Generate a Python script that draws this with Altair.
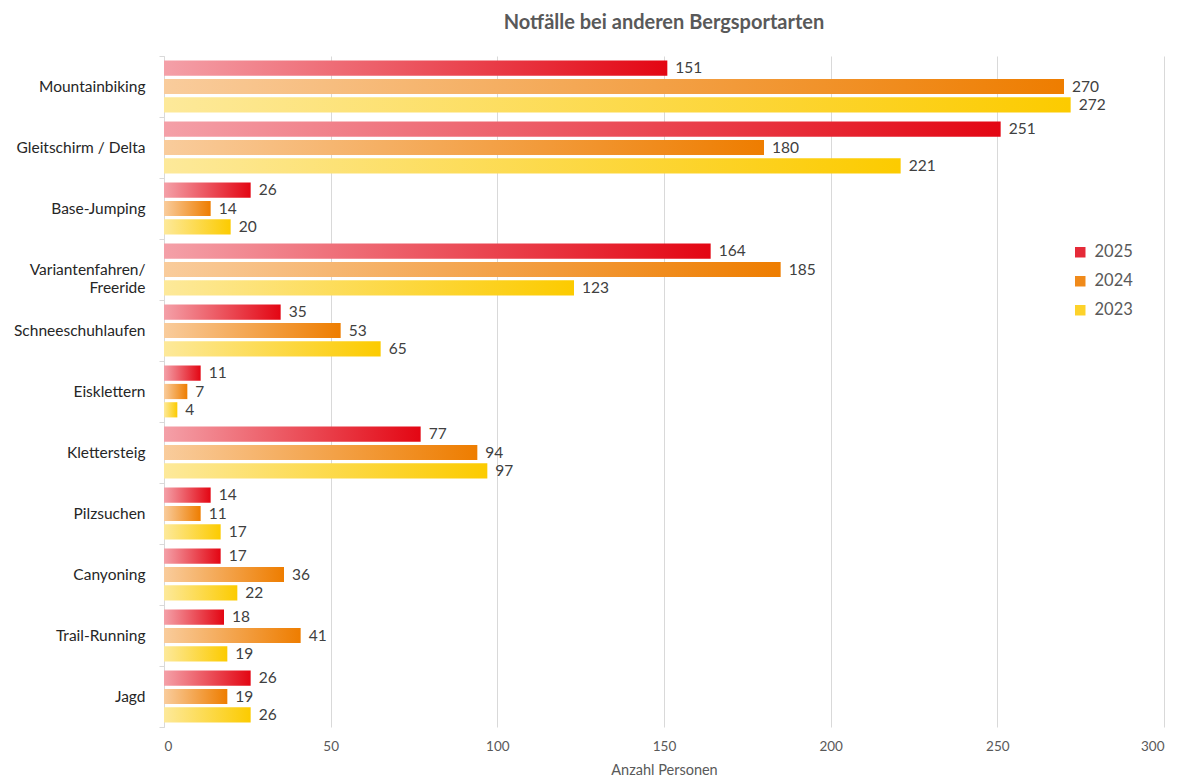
import altair as alt
import pandas as pd

categories = ["Mountainbiking", "Gleitschirm / Delta", "Base-Jumping", "Variantenfahren/Freeride",
              "Schneeschuhlaufen", "Eisklettern", "Klettersteig", "Pilzsuchen", "Canyoning",
              "Trail-Running", "Jagd"]
years = ["2025", "2024", "2023"]
v2025 = [151, 251, 26, 164, 35, 11, 77, 14, 17, 18, 26]
v2024 = [270, 180, 14, 185, 53, 7, 94, 11, 36, 41, 19]
v2023 = [272, 221, 20, 123, 65, 4, 97, 17, 22, 19, 26]

rows = []
for yr, vals in zip(years, [v2025, v2024, v2023]):
    for c, v in zip(categories, vals):
        rows.append({"Sportart": c, "Jahr": yr, "Wert": v})
df = pd.DataFrame(rows)

light = {"2025": "#F4A0A8", "2024": "#F9CC9C", "2023": "#FDE99A"}
dark = {"2025": "#E30613", "2024": "#EE7D00", "2023": "#FCCB00"}
legend_colors = ["#E52A38", "#F08A1A", "#FDD22A"]

FONT = "Lato"

y_enc = alt.Y("Sportart:N", sort=categories, title=None,
              scale=alt.Scale(paddingInner=0, paddingOuter=0),
              axis=alt.Axis(labelFontSize=15.5, labelColor="#262626", labelFont=FONT,
                            labelPadding=14, tickBand="extent", tickSize=5, tickColor="#D9D9D9",
                            domainColor="#D9D9D9", grid=False, labelLimit=300,
                            labelExpr="datum.value == 'Variantenfahren/Freeride' ? ['Variantenfahren/', 'Freeride'] : datum.label"))
yoff = alt.YOffset("Jahr:N", sort=years, scale=alt.Scale(paddingInner=0.17, paddingOuter=0.25))
x_enc = alt.X("Wert:Q", title="Anzahl Personen",
              scale=alt.Scale(domain=[0, 300], nice=False),
              axis=alt.Axis(values=[0, 50, 100, 150, 200, 250, 300], domain=False, ticks=False,
                            labelFontSize=13.5, labelColor="#595959", labelFont=FONT, labelPadding=12,
                            titleFontSize=14.5, titleColor="#595959", titleFont=FONT,
                            titleFontWeight="normal", titlePadding=11,
                            gridColor="#D9D9D9", gridWidth=1))

layers = []
for yr in years:
    grad = {"gradient": "linear", "x1": 0, "y1": 0, "x2": 1, "y2": 0,
            "stops": [{"offset": 0, "color": light[yr]}, {"offset": 1, "color": dark[yr]}]}
    layers.append(
        alt.Chart(df).transform_filter(alt.datum.Jahr == yr).mark_bar(fill=grad).encode(
            x=x_enc, y=y_enc, yOffset=yoff,
            color=alt.Color("Jahr:N", sort=years,
                            scale=alt.Scale(domain=years, range=legend_colors),
                            legend=alt.Legend(title=None, orient="none", legendX=908, legendY=188,
                                              symbolType="square", symbolSize=110,
                                              symbolStrokeWidth=0, labelFontSize=16.5,
                                              labelColor="#595959", labelFont=FONT,
                                              rowPadding=12, labelOffset=6))
        )
    )

text = alt.Chart(df).mark_text(align="left", dx=8, fontSize=15.5, color="#404040", font=FONT).encode(
    x=x_enc, y=y_enc, yOffset=yoff, text="Wert:Q"
)

chart = alt.layer(*layers, text).properties(
    width=1000, height=671,
    title=alt.TitleParams("Notfälle bei anderen Bergsportarten", fontSize=20, fontWeight="bold",
                          color="#595959", font=FONT, offset=16, anchor="middle")
).configure_view(stroke=None)

chart.save("out.html", embed_options={"renderer": "svg", "actions": False})
